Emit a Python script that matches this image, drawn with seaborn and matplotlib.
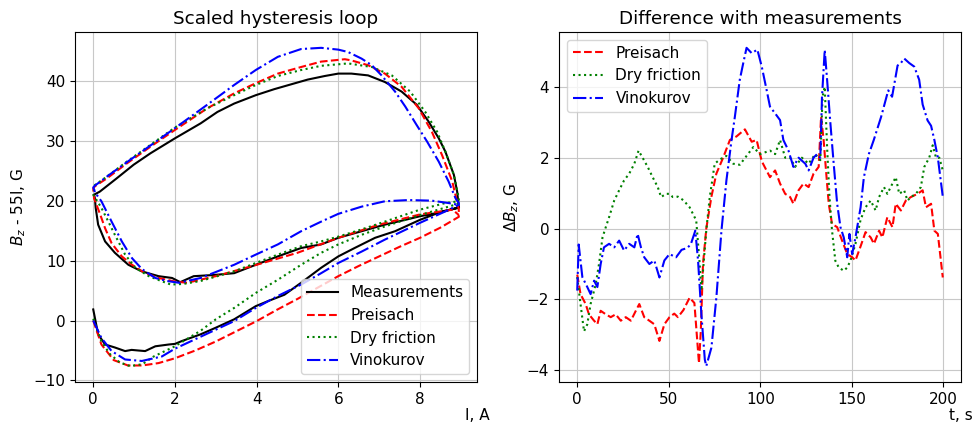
import numpy as np
import pandas as pd
import seaborn as sns
import matplotlib
matplotlib.use('Agg')
import matplotlib.pyplot as plt
from matplotlib.ticker import MultipleLocator

plt.rcParams['font.size'] = 11
plt.rcParams['grid.color'] = '#c8c8c8'

# ---- Scaled hysteresis loop (I, A vs Bz - 55I, G), path order: up, down, up ----
meas_I = [0.0, 0.12, 0.29, 0.53, 0.78, 0.94, 1.1, 1.27, 1.52, 1.85, 2.0, 2.18, 2.63, 3.0, 3.45,
          3.98, 4.3, 4.68, 5.09, 5.58, 6.0, 6.4, 6.9, 7.39, 8.0, 8.54, 8.95,
          8.95, 8.91, 8.83, 8.62, 8.46, 8.21, 7.92, 7.55, 7.14, 6.73, 6.32, 6.0, 5.67, 5.25,
          4.84, 4.43, 3.98, 3.45, 3.04, 2.63, 2.0, 1.4, 0.99, 0.57, 0.16, 0.02,
          0.04, 0.06, 0.12, 0.29, 0.53, 0.86, 1.19, 1.6, 1.93, 2.13, 2.46, 2.96, 3.45, 3.98,
          4.52, 5.09, 5.58, 6.0, 6.57, 7.14, 7.64, 8.0, 8.54, 8.95]
meas_B = [1.85, -2.3, -4.0, -4.5, -5.1, -4.9, -5.0, -5.1, -4.3, -4.0, -3.9, -3.4, -2.3, -1.2, 0.2,
          2.4, 3.3, 4.3, 6.3, 8.8, 10.7, 12.1, 13.8, 14.9, 16.8, 18.2, 18.8,
          19.0, 21.5, 24.3, 28.2, 30.4, 33.2, 36.0, 38.2, 39.8, 40.9, 41.2, 41.2, 40.8, 40.2,
          39.4, 38.6, 37.6, 36.2, 34.8, 32.9, 30.4, 27.9, 26.0, 23.7, 21.5, 21.0,
          20.4, 18.8, 16.0, 13.2, 11.3, 9.3, 8.2, 7.4, 7.1, 6.4, 7.4, 7.6, 7.9, 9.3,
          10.7, 12.1, 12.7, 13.8, 14.9, 16.0, 16.8, 17.4, 18.1, 18.9]

pre_I = [0.0, 0.2, 0.5, 0.85, 1.2, 1.6, 2.0, 2.5, 3.0, 3.5, 4.0, 4.5, 5.0, 5.5, 6.0, 6.5, 7.0,
         7.5, 8.0, 8.5, 8.95,
         8.95, 8.79, 8.54, 8.29, 7.97, 7.55, 7.14, 6.73, 6.32, 6.16, 5.58, 5.09, 4.52, 3.98, 3.45,
         2.79, 2.0, 1.4, 0.82, 0.33, 0.04, 0.0,
         0.02, 0.17, 0.29, 0.45, 0.7, 0.95, 1.27, 1.6, 2.0, 2.3, 3.0, 4.0, 5.0, 6.0, 7.0, 8.0,
         8.8, 8.95]
pre_B = [0.0, -4.0, -6.6, -7.5, -7.5, -7.1, -6.3, -5.0, -3.5, -1.8, -0.1, 1.8, 3.6, 5.5, 7.4, 9.1, 10.7,
         12.3, 13.8, 15.5, 17.3,
         18.6, 23.2, 27.6, 31.5, 35.4, 39.0, 41.2, 42.6, 43.4, 43.6, 43.2, 42.3, 41.2, 39.6, 37.9,
         35.4, 31.8, 29.0, 26.2, 23.7, 22.4, 22.0,
         20.4, 17.7, 15.4, 12.9, 10.7, 9.3, 7.9, 7.1, 6.5, 6.3, 7.4, 9.3, 11.3, 13.8, 16.0, 17.7,
         18.5, 17.6]

dry_I = [0.0, 0.2, 0.41, 0.65, 0.9, 1.2, 1.48, 2.0, 2.63, 3.0, 3.45, 3.98, 4.52, 5.09, 5.58, 6.0,
         6.57, 7.14, 8.0, 8.7, 8.95,
         8.95, 8.83, 8.62, 8.42, 8.13, 7.76, 7.31, 6.82, 6.24, 5.58, 5.09, 4.52, 3.98, 3.45, 2.79,
         2.0, 1.4, 0.82, 0.33, 0.04, 0.0,
         0.2, 0.37, 0.53, 0.78, 1.03, 1.36, 1.68, 1.9, 2.2, 2.63, 3.45, 3.98, 4.52, 5.09, 5.58,
         6.0, 6.57, 7.14, 8.0, 8.62, 8.95]
dry_B = [0.3, -3.5, -5.6, -7.0, -7.6, -7.3, -6.0, -4.3, -1.7, 0.2, 2.1, 4.6, 6.8, 9.3, 11.3, 12.7,
         14.3, 15.7, 17.6, 19.0, 19.5,
         20.4, 24.3, 28.2, 31.5, 34.8, 38.2, 40.9, 42.3, 42.9, 42.5, 41.8, 40.8, 39.3, 37.6, 35.4,
         32.2, 29.3, 26.5, 24.0, 22.6, 21.0,
         18.8, 16.5, 14.3, 11.0, 8.8, 7.4, 6.55, 6.0, 6.1, 6.6, 8.2, 9.6, 11.0, 12.4, 13.2,
         14.0, 15.2, 16.5, 18.5, 19.6, 19.9]

vin_I = [0.0, 0.2, 0.45, 0.78, 1.19, 1.68, 2.0, 2.63, 3.45, 3.98, 4.52, 5.09, 5.58, 6.0, 6.57,
         7.14, 8.0, 8.62, 8.95,
         8.95, 8.87, 8.7, 8.46, 8.17, 7.92, 7.64, 7.39, 7.06, 6.82, 6.57, 6.24, 6.0, 5.58, 5.09,
         4.52, 3.98, 3.45, 2.79, 2.0, 1.4, 0.82, 0.33, 0.04, 0.0,
         0.05, 0.2, 0.45, 0.7, 0.95, 1.19, 1.52, 1.8, 2.1, 2.63, 3.45, 3.98, 4.52, 5.09, 5.58,
         6.0, 6.57, 7.14, 7.72, 8.29, 8.7, 8.95]
vin_B = [0.0, -2.9, -5.1, -6.5, -6.75, -6.0, -4.7, -2.7, -0.1, 2.1, 4.1, 6.0, 7.9, 9.6, 11.5,
         13.5, 16.3, 18.2, 19.3,
         19.6, 20.4, 23.2, 26.5, 29.9, 32.6, 35.7, 38.2, 40.9, 42.6, 43.7, 44.8, 45.2, 45.5, 45.3,
         44.0, 41.8, 39.3, 36.0, 32.1, 29.2, 26.4, 24.0, 22.5, 22.2,
         21.3, 19.9, 16.5, 13.2, 10.4, 8.6, 7.1, 6.6, 6.3, 7.1, 9.3, 11.0, 12.7, 14.9, 16.5,
         17.8, 19.0, 19.9, 20.1, 20.0, 19.6, 19.3]

# ---- Difference with measurements (t, s vs dBz, G) ----
pre_t = [0, 1.8, 4.6, 6.4, 9.2, 11, 12.8, 15.6, 18.3, 21,
         23.8, 26.5, 29.3, 32, 33.9, 36.6, 39.4, 42.1, 44.9, 47.6,
         50.4, 53, 55, 58, 61.4, 64, 66.5, 67.5, 68.7, 70.5,
         73.3, 76, 79.7, 83.4, 87, 91.6, 95.3, 98, 100.8, 105.3,
         108.1, 110.8, 113.6, 116.3, 118.1, 120.9, 123.6, 126.4, 129.1, 131.9,
         133.2, 134.6, 135.9, 137.4, 139.2, 142, 144.7, 147.5, 150.2, 152,
         154.8, 157.5, 160.3, 162.1, 164.9, 166.7, 169.4, 172.2, 174, 176.8,
         179.5, 182.3, 185.9, 188.7, 190.5, 193.3, 195.1, 197, 199.7]
pre_d = [-1.3, -1.85, -2.13, -2.42, -2.6, -2.7, -2.32, -2.42, -2.5, -2.42,
         -2.6, -2.5, -2.6, -2.32, -2.13, -2.5, -2.6, -2.7, -3.17, -2.7,
         -2.5, -2.4, -2.5, -2.3, -1.95, -2.1, -3.8, -2.9, -1.0, 0.0,
         0.9, 1.55, 2.0, 2.5, 2.6, 2.8, 2.45, 2.5, 1.9, 1.45,
         1.64, 1.27, 0.98, 0.89, 0.7, 1.08, 1.27, 1.17, 1.55, 1.74,
         3.15, 2.5, 1.64, 0.7, 0.13, 0.04, -0.34, -0.72, -0.81, -0.9,
         -0.5, -0.1, -0.25, -0.43, -0.06, -0.25, 0.32, 0.04, 0.7, 0.51,
         0.79, 0.89, 0.98, 1.08, 0.6, 0.7, -0.06, -0.15, -1.38]

dry_t = [0, 1.8, 3.7, 5.5, 7.3, 10.1, 11.9, 13.8, 15.6, 17.4,
         20.2, 22.9, 25.6, 28.4, 31.2, 33.5, 35.7, 38.5, 41.2, 44,
         45.8, 48.5, 50.4, 52.2, 55, 58, 61.4, 65, 66.9, 67.8,
         68.7, 70.5, 72.4, 75.1, 77.9, 81.5, 85.2, 88.8, 92.5, 96.2,
         99.8, 105.3, 108.1, 110.8, 113.6, 116.3, 119, 122.7, 126.4, 130,
         132.8, 134, 135.2, 136.5, 137.8, 139.2, 141, 142.9, 145.6, 147.5,
         149.3, 152, 154.8, 157.5, 160.3, 163, 164.9, 167.6, 169.4, 172.2,
         174, 175.9, 178.6, 180.4, 182.3, 185, 187.7, 189.6, 192.3, 194.2,
         196, 197.8, 199.7]
dry_d = [-1.37, -2.13, -2.9, -2.7, -2.13, -1.57, -1.0, -0.25, 0.04, 0.32,
         0.79, 1.08, 1.36, 1.55, 1.83, 2.2, 2.0, 1.74, 1.45, 1.17,
         0.89, 0.98, 0.98, 0.89, 0.9, 0.8, 0.6, 0.23, -1.0, -1.75,
         -1.2, -0.05, 0.89, 1.83, 1.95, 2.05, 1.83, 1.8, 2.05, 2.3,
         2.1, 2.2, 2.1, 2.5, 2.0, 2.0, 1.74, 2.0, 1.83, 2.1,
         1.93, 3.72, 4.0, 2.3, 0.89, -0.06, -0.91, -1.1, -1.19, -1.1,
         -0.9, -0.43, 0.25, 0.6, 0.79, 0.51, 0.89, 1.17, 0.98, 1.27,
         1.45, 0.98, 1.08, 0.79, 0.89, 0.98, 1.17, 1.74, 2.0, 2.35,
         2.0, 2.0, 1.64]

vin_t = [0, 0.8, 2.8, 5.5, 7.3, 9.2, 11, 12.8, 14.6, 17.4,
         20.2, 22.9, 25.6, 28.4, 31.2, 33, 34.8, 36.6, 39.4, 42.1,
         44.9, 47.6, 50.4, 54, 57, 60, 62, 64.5, 66, 67.8,
         69.7, 70.5, 73.3, 76, 78.8, 81.5, 84.3, 86.1, 88.8, 90.7,
         92.5, 95.3, 98.4, 100.8, 103.5, 105.3, 108.1, 110.8, 112.6, 115.4,
         118.1, 120.9, 124.6, 126.4, 129.1, 131, 132.8, 133.7, 135.2, 136.5,
         138.3, 140.1, 142, 143.8, 145.6, 147.5, 148.7, 150.2, 152, 154.8,
         156.6, 159.3, 162, 166, 169.9, 172, 175, 176.8, 178.6, 181.4,
         184.1, 186.8, 188.7, 191.4, 193.3, 195.1, 197, 199.7]
vin_d = [-1.75, -0.45, -1.37, -1.65, -1.85, -1.47, -1.65, -1.0, -0.53, -0.43,
         -0.53, -0.34, -0.62, -0.43, -0.53, -0.15, -0.53, -0.81, -1.0, -0.9,
         -1.38, -0.9, -0.72, -0.81, -0.6, -0.55, -0.45, -0.06, -0.9, -2.4,
         -3.7, -3.88, -3.36, -1.95, -0.05, 1.36, 2.5, 3.15, 4.2, 4.67,
         5.1, 4.95, 5.05, 4.57, 3.9, 3.44, 3.25, 3.06, 2.5, 2.2,
         1.74, 2.0, 1.83, 1.64, 2.0, 2.1, 2.0, 3.7, 5.04, 4.2,
         2.97, 1.83, 0.7, 0.04, -0.25, -0.81, -0.15, -0.72, -0.25, 0.6,
         1.45, 2.1, 2.5, 3.15, 3.9, 3.72, 4.6, 4.67, 4.8, 4.67,
         4.57, 4.2, 3.5, 3.05, 2.9, 2.5, 2.0, 0.9]

fig = plt.figure(figsize=(9.76, 4.29), dpi=100)
ax1 = fig.add_axes([0.0768, 0.1096, 0.412, 0.816])
ax2 = fig.add_axes([0.5727, 0.1096, 0.412, 0.816])

# left: hysteresis loop
loop = [('Measurements', meas_I, meas_B, 'k', '-'),
        ('Preisach', pre_I, pre_B, 'r', '--'),
        ('Dry friction', dry_I, dry_B, 'g', ':'),
        ('Vinokurov', vin_I, vin_B, 'b', '-.')]
for name, xs, ys, c, ls in loop:
    sns.lineplot(x=xs, y=ys, sort=False, estimator=None, color=c, linestyle=ls,
                 linewidth=1.5, label=name, ax=ax1)
ax1.grid(True)
ax1.set_title('Scaled hysteresis loop')
ax1.set_ylabel('$B_z$ - 55I, G')
ax1.set_xlabel('I, A')
ax1.xaxis.set_label_coords(1.0, -0.075)
ax1.legend(loc='lower right')

# right: difference
diff = [('Preisach', pre_t, pre_d, 'r', '--'),
        ('Dry friction', dry_t, dry_d, 'g', ':'),
        ('Vinokurov', vin_t, vin_d, 'b', '-.')]
for name, xs, ys, c, ls in diff:
    sns.lineplot(x=xs, y=ys, sort=False, estimator=None, color=c, linestyle=ls,
                 linewidth=1.5, label=name, ax=ax2)
ax2.grid(True)
ax2.xaxis.set_major_locator(MultipleLocator(50))
ax2.yaxis.set_major_locator(MultipleLocator(2))
ax2.set_title('Difference with measurements')
ax2.set_ylabel(r'$\Delta B_z$, G')
ax2.set_xlabel('t, s')
ax2.xaxis.set_label_coords(1.0, -0.075)
ax2.legend(loc='upper left')

fig.savefig('out.png', dpi=100)
